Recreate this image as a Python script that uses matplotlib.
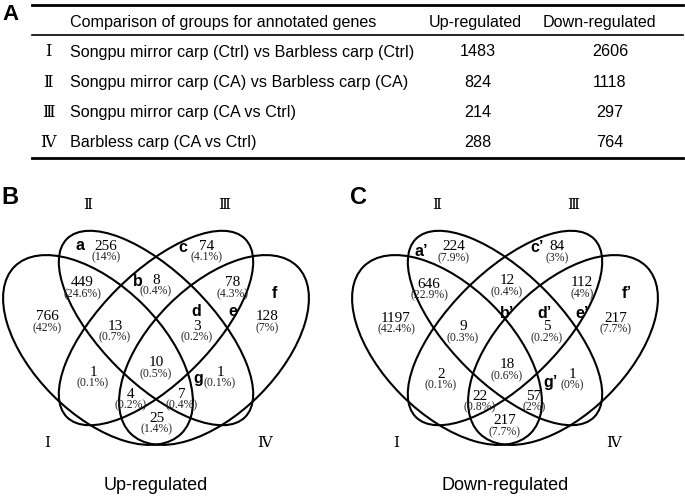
import matplotlib.pyplot as plt
from matplotlib.patches import Ellipse

# ---- data ----
table_header = ['Comparison of groups for annotated genes', 'Up-regulated', 'Down-regulated']
group_ids = ['Ⅰ', 'Ⅱ', 'Ⅲ', 'Ⅳ']
group_names = ['Songpu mirror carp (Ctrl) vs Barbless carp (Ctrl)',
               'Songpu mirror carp (CA) vs Barbless carp (CA)',
               'Songpu mirror carp (CA vs Ctrl)',
               'Barbless carp (CA vs Ctrl)']
up_counts = [1483, 824, 214, 288]
down_counts = [2606, 1118, 297, 764]

# venn regions: I, II, III, IV, I&II, II&III, III&IV, I&II&III, II&III&IV,
# all, I&III, II&IV, I&III&IV, I&II&IV, I&IV
up_venn = [766, 256, 74, 128, 449, 8, 78, 13, 3, 10, 1, 1, 4, 7, 25]
up_pct = ['42%', '14%', '4.1%', '7%', '24.6%', '0.4%', '4.3%', '0.7%', '0.2%',
          '0.5%', '0.1%', '0.1%', '0.2%', '0.4%', '1.4%']
down_venn = [1197, 224, 84, 217, 646, 12, 112, 9, 5, 18, 2, 1, 22, 57, 217]
down_pct = ['42.4%', '7.9%', '3%', '7.7%', '22.9%', '0.4%', '4%', '0.3%', '0.2%',
            '0.6%', '0.1%', '0%', '0.8%', '2%', '7.7%']
up_letters = ['a', 'b', 'c', 'd', 'e', 'f', 'g']
down_letters = ["a’", "b’", "c’", "d’", "e’", "f’", "g’"]

# ---- layout (pixel coords, x relative to venn symmetry axis) ----
region_pos_up = [(-109, 317), (-50, 246), (51, 246), (111, 317), (-74, 283),
                 (0, 280), (77, 283), (-41, 326), (41, 326), (0, 363),
                 (-63, 372), (64, 372), (-25, 394), (26, 394), (1, 418)]
region_pos_down = [(-109, 318), (-51, 247), (52, 247), (111, 318), (-76, 284),
                   (2, 281), (77, 283), (-42, 327), (42, 327), (2, 365),
                   (-64, 374), (67, 374), (-25, 396), (29, 396), (0, 421)]
letter_pos_up = [(-76, 245), (-18, 282), (27, 247), (40, 311), (77, 311), (118, 293), (42, 378)]
letter_pos_down = [(-84, 251), (2, 313), (32, 248), (40, 313), (77, 313), (122, 294), (46, 382)]

ELL = [  # dx, cy, width, height, angle
    (-58, 350, 236, 128, 45),
    (0, 328, 252, 110, 45),
    (0, 328, 252, 110, -45),
    (58, 350, 236, 128, -45),
]

fig = plt.figure(figsize=(6.85, 4.96), dpi=100)
ax = fig.add_axes([0, 0, 1, 1])
ax.set_xlim(0, 685)
ax.set_ylim(496, 0)
ax.axis('off')

roman = ['DejaVu Serif', 'Noto Sans CJK SC']

# ---- panel A: table ----
ax.text(11, 14, 'A', fontsize=16, fontweight='bold', family='Liberation Sans', ha='center', va='center')
ax.plot([32, 683], [4.5, 4.5], color='black', lw=2)
ax.plot([32, 683], [34.5, 34.5], color='black', lw=1.2)
ax.plot([32, 683], [158, 158], color='black', lw=2)

fs = 11.65
ax.text(70, 22, table_header[0], fontsize=fs, family='Liberation Sans', va='center')
ax.text(475, 22, table_header[1], fontsize=fs, family='Liberation Sans', va='center', ha='center')
ax.text(599, 22, table_header[2], fontsize=fs, family='Liberation Sans', va='center', ha='center')
for i in range(len(group_names)):
    y = 52 + i * 30.3
    ax.text(48, y, group_ids[i], fontsize=fs, family=roman, va='center', ha='center')
    ax.text(70, y, group_names[i], fontsize=fs, family='Liberation Sans', va='center')
    ax.text(478, y, str(up_counts[i]), fontsize=fs, family='Liberation Sans', va='center', ha='center')
    ax.text(610, y, str(down_counts[i]), fontsize=fs, family='Liberation Sans', va='center', ha='center')


def draw_venn(cx, counts, pcts, letters, rpos, lpos, panel, title):
    for dx, cy, w, h, ang in ELL:
        ax.add_patch(Ellipse((cx + dx, cy), w, h, angle=ang, fill=False, ec='black', lw=1.5))

    for k in range(len(counts)):
        x, y = rpos[k]
        ax.text(cx + x, y, str(counts[k]), fontsize=11, family='Liberation Serif',
                ha='center', va='center')
        ax.text(cx + x, y + 11, '(' + pcts[k] + ')', fontsize=8.5, family='Liberation Serif',
                ha='center', va='center', color='#222222')

    for k in range(len(letters)):
        x, y = lpos[k]
        ax.text(cx + x, y, letters[k], fontsize=11.5, fontweight='bold', family='Liberation Sans',
                ha='center', va='center')

    ax.text(cx - 146, 197, panel, fontsize=17, fontweight='bold', family='Liberation Sans',
            ha='center', va='center')
    ax.text(cx - 68, 205, 'Ⅱ', fontsize=11, family=roman, ha='center', va='center')
    ax.text(cx + 68, 205, 'Ⅲ', fontsize=11, family=roman, ha='center', va='center')
    ax.text(cx - 109, 443, 'Ⅰ', fontsize=11, family=roman, ha='center', va='center')
    ax.text(cx + 109, 443, 'Ⅳ', fontsize=11, family=roman, ha='center', va='center')
    ax.text(cx, 485, title, fontsize=13, family='Liberation Sans', ha='center', va='center')


draw_venn(156, up_venn, up_pct, up_letters, region_pos_up, letter_pos_up, 'B', 'Up-regulated')
draw_venn(505, down_venn, down_pct, down_letters, region_pos_down, letter_pos_down, 'C', 'Down-regulated')

fig.savefig('out.png', dpi=100)
